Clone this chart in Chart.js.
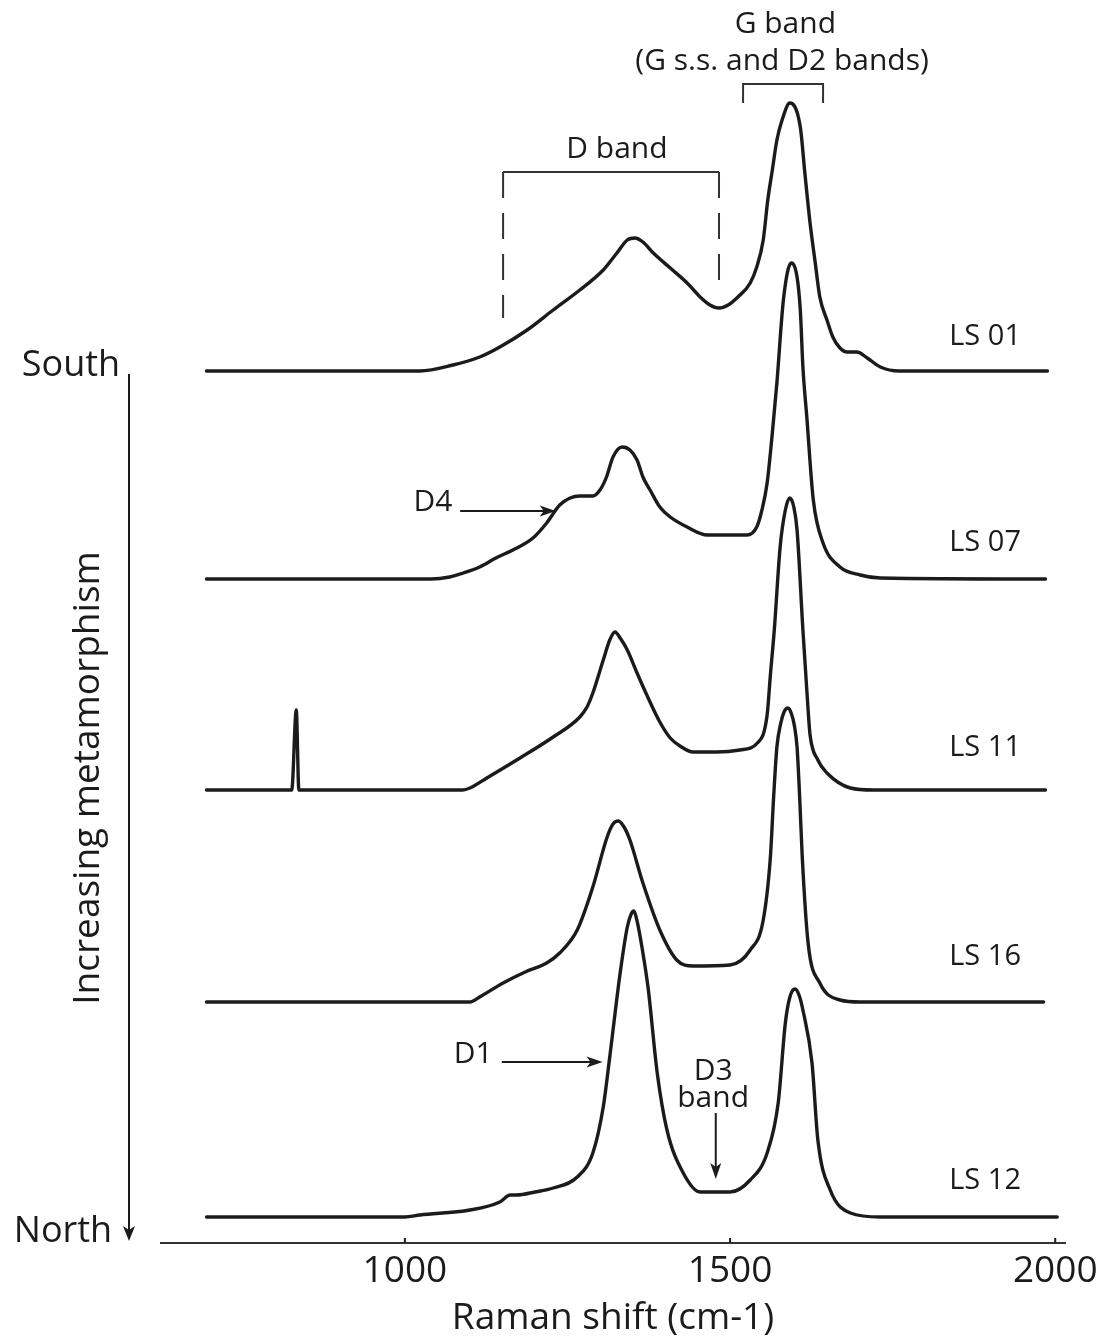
<!DOCTYPE html>
<html>
<head>
<meta charset="utf-8">
<script src="https://cdn.jsdelivr.net/npm/chart.js@4.4.1/dist/chart.umd.min.js"></script>
<style>
html,body{margin:0;padding:0;background:#fff;}
#wrap{width:1099px;height:1337px;position:relative;}
</style>
</head>
<body>
<div id="wrap"><canvas id="c"></canvas></div>
<script>
// ---- DATA (Raman shift in cm-1, intensity in arbitrary units above each baseline) ----
const sampleNames = ['LS 01', 'LS 07', 'LS 11', 'LS 16', 'LS 12'];
const baselineOffsets = [872, 664, 453, 241, 26];
const tickValues = [1000, 1500, 2000];

const ls01 = [[695,0],[1000,0],[1023,0],[1074,6],[1115,14],[1146,24],[1188,41],[1228,61],[1269,81],[1305,101],[1326,118],[1342,131],[1354,133],[1366,129],[1382,118],[1408,103],[1434,88],[1454,74],[1469,66],[1483,63],[1497,66],[1512,74],[1531,88],[1541,104],[1551,131],[1558,171],[1565,201],[1572,231],[1580,251],[1592,268],[1608,244],[1615,198],[1623,148],[1631,108],[1638,74],[1649,51],[1658,34],[1669,23],[1680,19],[1695,19],[1711,13],[1731,4],[1760,0],[1988,0]];
const ls07 = [[695,0],[1040,0],[1069,2],[1090,6],[1115,12],[1140,21],[1166,29],[1197,41],[1218,56],[1238,74],[1254,81],[1269,83],[1289,83],[1300,89],[1310,102],[1320,122],[1334,132],[1346,129],[1357,119],[1366,102],[1377,89],[1392,72],[1408,62],[1434,52],[1465,44],[1526,44],[1541,52],[1549,69],[1557,96],[1565,146],[1572,196],[1582,279],[1594,316],[1603,302],[1608,269],[1612,212],[1618,162],[1628,79],[1643,36],[1669,12],[1700,4],[1731,1],[1985,0]];
const ls11 = [[695,0],[826,0],[833,80],[837,0],[1089,0],[1100,2],[1126,12],[1177,32],[1228,53],[1269,73],[1280,83],[1289,97],[1305,130],[1315,150],[1323,158],[1332,151],[1342,140],[1357,117],[1372,95],[1392,68],[1408,52],[1423,44],[1443,38],[1480,38],[1515,40],[1542,47],[1557,75],[1562,115],[1568,160],[1577,243],[1585,280],[1592,292],[1598,283],[1603,260],[1612,160],[1620,80],[1623,55],[1635,30],[1649,17],[1685,2],[1720,0],[1985,0]];
const ls16 = [[695,0],[1100,0],[1115,5],[1151,19],[1185,30],[1218,39],[1238,49],[1265,72],[1289,115],[1311,165],[1320,178],[1328,181],[1337,175],[1346,162],[1366,119],[1392,72],[1418,42],[1443,36],[1500,37],[1531,52],[1551,82],[1562,145],[1567,205],[1572,255],[1578,279],[1583,290],[1589,294],[1594,289],[1599,276],[1603,255],[1607,205],[1611,145],[1620,59],[1638,19],[1669,2],[1700,0],[1982,0]];
const ls12 = [[695,0],[1000,0],[1023,2],[1100,7],[1146,15],[1162,22],[1172,22],[1200,25],[1228,29],[1265,40],[1289,64],[1305,110],[1315,160],[1331,244],[1342,290],[1348,303],[1352,306],[1357,296],[1365,268],[1374,229],[1388,144],[1403,87],[1428,44],[1454,25],[1500,25],[1531,37],[1557,64],[1574,114],[1585,194],[1592,220],[1600,228],[1606,222],[1612,207],[1626,154],[1635,77],[1654,27],[1685,4],[1731,0],[2003,0]];

const spectra = [ls01, ls07, ls11, ls16, ls12];

// ---- CHART ----
const ink = '#1b1b1b';
const FONT = '"Open Sans", "DejaVu Sans", sans-serif';

const datasets = spectra.map((s, i) => ({
  label: sampleNames[i],
  data: s.map(([x, v]) => ({ x: x, y: v + baselineOffsets[i] })),
  borderColor: ink,
  borderWidth: 3.4,
  pointRadius: 0,
  fill: false,
  cubicInterpolationMode: 'monotone',
  borderJoinStyle: 'round',
  borderCapStyle: 'round'
}));

function arrow(ctx, x1, y1, x2, y2, len, half) {
  const a = Math.atan2(y2 - y1, x2 - x1);
  ctx.beginPath();
  ctx.moveTo(x1, y1);
  ctx.lineTo(x2 - Math.cos(a) * len * 0.6, y2 - Math.sin(a) * len * 0.6);
  ctx.stroke();
  ctx.beginPath();
  ctx.moveTo(x2, y2);
  ctx.lineTo(x2 - Math.cos(a) * len - Math.sin(a) * half, y2 - Math.sin(a) * len + Math.cos(a) * half);
  ctx.lineTo(x2 - Math.cos(a) * len * 0.75, y2 - Math.sin(a) * len * 0.75);
  ctx.lineTo(x2 - Math.cos(a) * len + Math.sin(a) * half, y2 - Math.sin(a) * len - Math.cos(a) * half);
  ctx.closePath();
  ctx.fill();
}

const annotations = {
  id: 'annotations',
  afterDraw(chart) {
    const { ctx, chartArea: ca, scales: { x, y } } = chart;
    const px = v => x.getPixelForValue(v);
    const py = v => y.getPixelForValue(v);
    const text = (s, X, Y, size, align) => {
      ctx.font = size + 'px ' + FONT;
      ctx.textAlign = align || 'center';
      ctx.textBaseline = 'middle';
      ctx.fillText(s, X, Y);
    };
    ctx.save();
    ctx.fillStyle = ink;
    ctx.strokeStyle = ink;
    ctx.lineCap = 'butt';

    // small tick marks on the axis
    ctx.lineWidth = 2;
    tickValues.forEach(v => {
      ctx.beginPath();
      ctx.moveTo(px(v), ca.bottom);
      ctx.lineTo(px(v), ca.bottom - 5);
      ctx.stroke();
    });

    // G band bracket + label
    text('G band', px(1585), py(1219), 30);
    text('(G s.s. and D2 bands)', px(1580), py(1182), 30);
    ctx.strokeStyle = '#333';
    ctx.lineWidth = 2;
    ctx.beginPath();
    ctx.moveTo(px(1520), py(1140));
    ctx.lineTo(px(1520), py(1159));
    ctx.lineTo(px(1643), py(1159));
    ctx.lineTo(px(1643), py(1140));
    ctx.stroke();

    // D band bracket + label
    text('D band', px(1326), py(1094), 30);
    ctx.beginPath();
    ctx.moveTo(px(1151), py(1071));
    ctx.lineTo(px(1483), py(1071));
    ctx.stroke();
    ctx.setLineDash([26, 15]);
    ctx.beginPath();
    ctx.moveTo(px(1151), py(1071));
    ctx.lineTo(px(1151), py(925));
    ctx.stroke();
    ctx.beginPath();
    ctx.moveTo(px(1483), py(1071));
    ctx.lineTo(px(1483), py(961));
    ctx.stroke();
    ctx.setLineDash([]);
    ctx.strokeStyle = ink;

    // D4 arrow
    text('D4', px(1043), py(741), 30);
    ctx.lineWidth = 2;
    arrow(ctx, px(1085), py(732), px(1232), py(732), 16, 5.5);

    // D1 arrow
    text('D1', px(1105), py(189), 30);
    arrow(ctx, px(1149), py(181), px(1304), py(181), 16, 5.5);

    // D3 band arrow
    text('D3', px(1474), py(172), 30);
    text('band', px(1474), py(145), 30);
    arrow(ctx, px(1478), py(130), px(1478), py(64), 16, 5.5);

    // sample labels
    const labelY = [906, 700, 495, 286, 62];
    sampleNames.forEach((n, i) => text(n, px(1837), py(labelY[i]), 29, 'left'));

    // South -> North arrow and rotated label
    const ax = ca.left - 32;
    text('South', ca.left - 90, 366, 36);
    text('North', ca.left - 98, 1232, 36);
    ctx.lineWidth = 2;
    ctx.beginPath();
    ctx.moveTo(ax, 374);
    ctx.lineTo(ax, 1230);
    ctx.stroke();
    ctx.beginPath();
    ctx.moveTo(ax, 1241);
    ctx.lineTo(ax - 6, 1226);
    ctx.lineTo(ax, 1230);
    ctx.lineTo(ax + 6, 1226);
    ctx.closePath();
    ctx.fill();

    ctx.save();
    ctx.translate(ca.left - 73, 778);
    ctx.rotate(-Math.PI / 2);
    text('Increasing metamorphism', 0, 0, 37);
    ctx.restore();

    ctx.restore();
  }
};

new Chart(document.getElementById('c'), {
  type: 'line',
  data: { datasets },
  options: {
    responsive: true,
    maintainAspectRatio: false,
    animation: false,
    events: [],
    layout: { padding: { left: 161, right: 34, top: 0, bottom: 0 } },
    plugins: { legend: { display: false }, tooltip: { enabled: false } },
    scales: {
      x: {
        type: 'linear',
        min: 625,
        max: 2015,
        afterBuildTicks: s => { s.ticks = tickValues.map(v => ({ value: v })); },
        afterFit: s => { s.paddingLeft = 0; s.paddingRight = 0; },
        grid: { display: false, drawTicks: false },
        border: { display: true, color: '#333', width: 2 },
        ticks: {
          font: { family: FONT, size: 37, lineHeight: 1.2 },
          color: ink,
          padding: 5.8,
          maxRotation: 0,
          autoSkip: false,
          callback: v => String(v)
        },
        title: {
          display: true,
          text: 'Raman shift (cm-1)',
          font: { family: FONT, size: 37, lineHeight: 1.027 },
          color: ink,
          padding: { top: 0, bottom: 0 }
        }
      },
      y: { display: false, min: 0, max: 1243 }
    }
  },
  plugins: [annotations]
});
</script>
</body>
</html>
